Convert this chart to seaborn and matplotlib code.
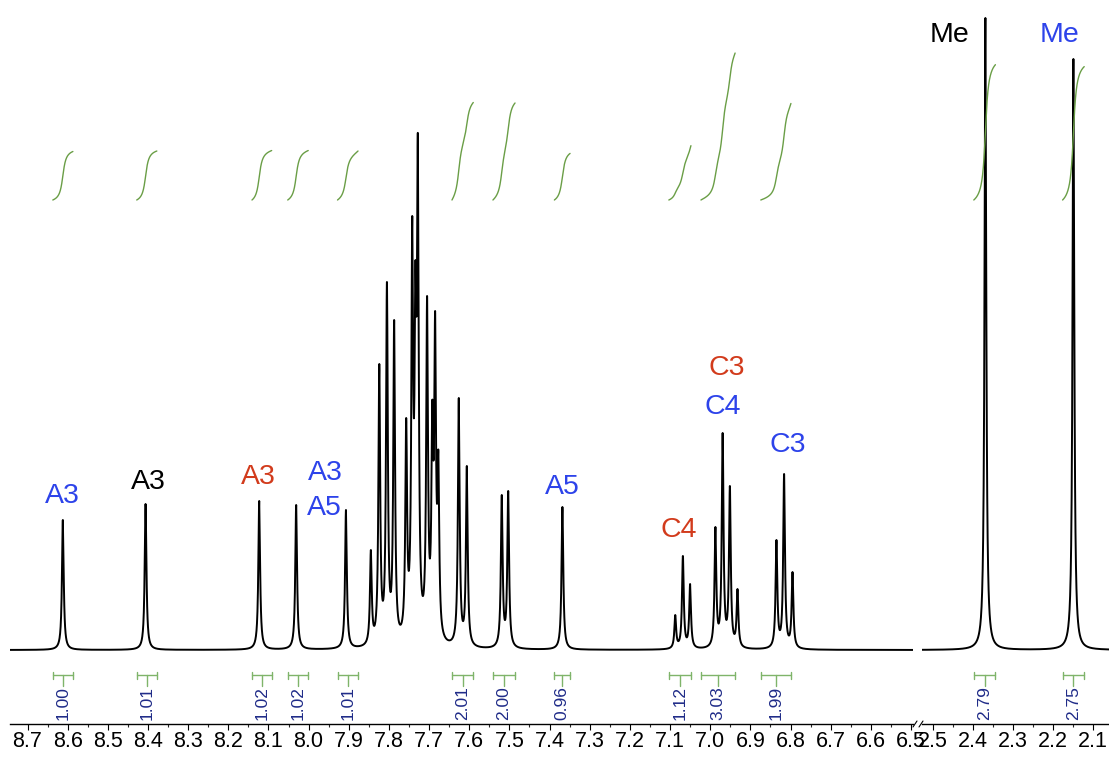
import numpy as np
import pandas as pd
import matplotlib
matplotlib.use("Agg")
import matplotlib.pyplot as plt
from matplotlib.ticker import MultipleLocator, FormatStrFormatter
from matplotlib.lines import Line2D
import seaborn as sns

# ---------------- data ----------------
# peak list: chemical shift (ppm) and observed intensity (arbitrary units)
peak_ppm = [8.612, 8.406, 8.123, 8.031, 7.907, 7.845, 7.824, 7.805, 7.787,
            7.757, 7.742, 7.734, 7.728, 7.705, 7.692, 7.685, 7.677, 7.626,
            7.606, 7.519, 7.503, 7.368, 7.087, 7.068, 7.050, 6.987, 6.969,
            6.951, 6.932, 6.835, 6.816, 6.795, 2.369, 2.149]
peak_height = [130, 146, 149, 145, 140, 100, 286, 368, 330,
               232, 434, 389, 517, 354, 250, 339, 200, 252,
               184, 155, 159, 143, 35, 94, 66, 123, 217,
               164, 61, 110, 176, 78, 632, 591]

# integration regions
int_lo = [8.587, 8.378, 8.092, 8.001, 7.877, 7.590, 7.486, 7.349, 7.048, 6.938, 6.799, 2.344, 2.122]
int_hi = [8.637, 8.428, 8.141, 8.052, 7.928, 7.643, 7.541, 7.388, 7.103, 7.023, 6.874, 2.398, 2.176]
int_val = ["1.00", "1.01", "1.02", "1.02", "1.01", "2.01", "2.00", "0.96", "1.12", "3.03", "1.99", "2.79", "2.75"]

# assignment labels
lab_text = ["A3", "A3", "A3", "A3", "A5", "A5", "C4", "C3", "C4", "C3", "Me", "Me"]
lab_ppm = [8.612, 8.400, 8.124, 7.959, 7.962, 7.367, 7.079, 6.958, 6.968, 6.806, 2.4575, 2.1825]
lab_int = [154, 168, 173, 177, 142, 163, 120, 282, 243, 205, 615, 615]
lab_col = ["blue", "black", "red", "blue", "blue", "blue", "red", "red", "blue", "blue", "black", "blue"]

# tick labels / ranges
left_range = (8.7436, 6.495)
right_range = (2.5275, 2.06)

# ---------------- style ----------------
sns.set_theme(style="white")
plt.rcParams["font.family"] = ["Liberation Sans", "DejaVu Sans"]
COLORS = {"blue": "#2d43ea", "red": "#d23b1c", "black": "#000000"}
GREEN_INT = "#6a9e46"
GREEN_BR = "#7fb46a"
NAVY = "#1f2b88"

W, H = 1109, 757
fig = plt.figure(figsize=(W / 100, H / 100), dpi=100)
axL = fig.add_axes([10 / W, 33 / H, 903 / W, 724 / H])
axR = fig.add_axes([922 / W, 33 / H, 187 / W, 724 / H])

G = 0.0026      # line half-width (ppm)
G_INT = 0.006   # smoothing for integral trace display


def lor(x, x0, g):
    return g ** 2 / ((x - x0) ** 2 + g ** 2)


P = np.array(peak_ppm)
Hh = np.array(peak_height, dtype=float)
M = lor(P[:, None], P[None, :], G)
amp = np.clip(np.linalg.solve(M, Hh), 0, None)


def spectrum(x, g=G):
    return (amp[None, :] * lor(x[:, None], P[None, :], g)).sum(axis=1)


for ax, rng in ((axL, left_range), (axR, right_range)):
    xs = np.arange(rng[1] - 0.01, rng[0] + 0.01, 0.0002)
    df = pd.DataFrame({"ppm": xs, "I": spectrum(xs)})
    sns.lineplot(data=df, x="ppm", y="I", ax=ax, color="black", lw=1.4,
                 estimator=None, sort=False)
    ax.set_xlim(*rng)
    ax.set_ylim(-74, 650)
    ax.set_yticks([])
    ax.set_xlabel("")
    ax.set_ylabel("")
    for s in ("left", "right", "top"):
        ax.spines[s].set_visible(False)
    ax.spines["bottom"].set_linewidth(1.0)
    ax.spines["bottom"].set_color("black")
    ax.xaxis.set_major_locator(MultipleLocator(0.1))
    ax.xaxis.set_minor_locator(MultipleLocator(0.05))
    ax.xaxis.set_major_formatter(FormatStrFormatter("%.1f"))
    ax.tick_params(axis="x", which="major", bottom=True, direction="out",
                   length=4.2, width=0.8, labelsize=15.5, pad=0.5, colors="black")
    ax.tick_params(axis="x", which="minor", bottom=True, direction="out",
                   length=2.2, width=0.8)
    ax.patch.set_alpha(0)

# integrals
for lo, hi, val in zip(int_lo, int_hi, int_val):
    ax = axL if lo > 5 else axR
    xs = np.linspace(hi, lo, 300)
    ys = spectrum(xs, G_INT)
    cum = np.concatenate([[0], np.cumsum(0.5 * (ys[1:] + ys[:-1]))])
    cum = cum / cum[-1]
    ax.plot(xs, 450 + cum * float(val) * 48.5, color=GREEN_INT, lw=1.0)
    c = 0.5 * (lo + hi)
    ax.plot([lo, hi], [-25, -25], color=GREEN_BR, lw=1.0)
    ax.plot([lo, lo], [-21.5, -28.5], color=GREEN_BR, lw=1.0)
    ax.plot([hi, hi], [-21.5, -28.5], color=GREEN_BR, lw=1.0)
    ax.plot([c, c], [-25, -36], color=GREEN_BR, lw=1.0)
    ax.text(c, -36, val, rotation=90, ha="center", va="top", fontsize=12.5,
            color=NAVY)

# assignment labels
for t, x, y, col in zip(lab_text, lab_ppm, lab_int, lab_col):
    ax = axL if x > 5 else axR
    ax.text(x, y, t, ha="center", va="center", fontsize=20.5, color=COLORS[col])

# axis break marks
for x0 in (913, 919):
    fig.add_artist(Line2D([x0 / W, (x0 + 4) / W], [(757 - 727) / H, (757 - 721) / H],
                          color="black", lw=0.8))

fig.savefig("out.png", dpi=100)
